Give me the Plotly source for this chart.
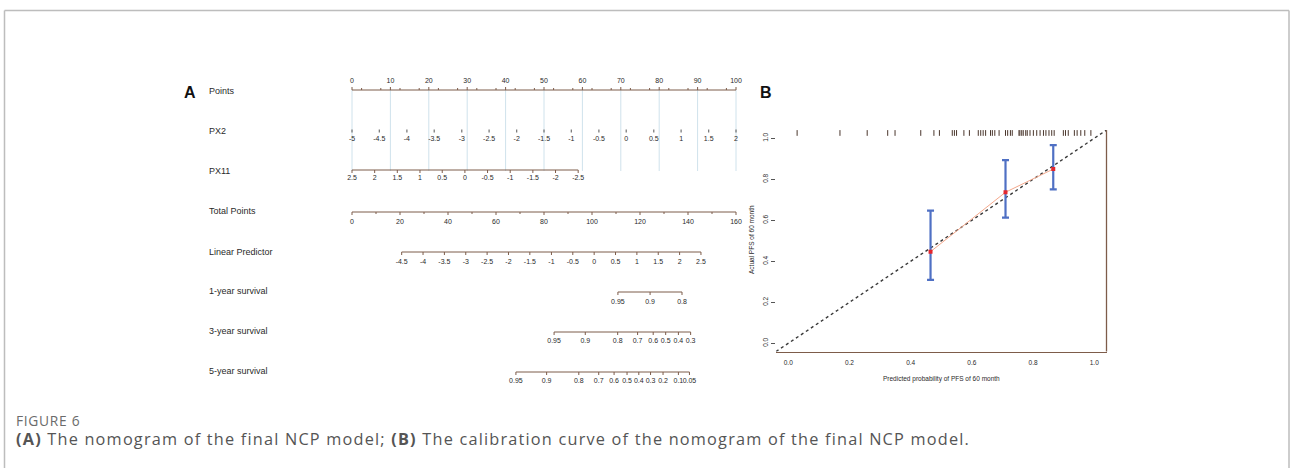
import plotly.graph_objects as go

# ------------------------------------------------------------------
# DATA
# ------------------------------------------------------------------
points_ticks = [0, 10, 20, 30, 40, 50, 60, 70, 80, 90, 100]
points_minor = [2.5, 7.5, 12.5, 17.5, 22.5, 27.5, 32.5, 37.5, 42.5, 47.5,
                52.5, 57.5, 62.5, 67.5, 72.5, 77.5, 82.5, 87.5, 92.5, 97.5]

px2_values = ["-5", "-4.5", "-4", "-3.5", "-3", "-2.5", "-2", "-1.5", "-1",
              "-0.5", "0", "0.5", "1", "1.5", "2"]
px2_points = [0, 7.1, 14.3, 21.4, 28.6, 35.7, 42.9, 50.0, 57.1, 64.3,
              71.4, 78.6, 85.7, 92.9, 100]

px11_values = ["2.5", "2", "1.5", "1", "0.5", "0", "-0.5", "-1", "-1.5",
               "-2", "-2.5"]
px11_points = [0, 5.9, 11.8, 17.7, 23.5, 29.4, 35.3, 41.2, 47.1, 53.0, 58.9]

total_ticks = [0, 20, 40, 60, 80, 100, 120, 140, 160]
total_minor = [10, 30, 50, 70, 90, 110, 130, 150]
total_max = 160          # total-points value that lines up with 100 points
points_max = 100

lp_values = ["-4.5", "-4", "-3.5", "-3", "-2.5", "-2", "-1.5", "-1", "-0.5",
             "0", "0.5", "1", "1.5", "2", "2.5"]
lp_total = [20.7, 29.6, 38.5, 47.4, 56.3, 65.2, 74.1, 83.1, 92.0, 100.9,
            109.8, 118.7, 127.6, 136.5, 145.4]

surv1_labels = ["0.95", "0.9", "0.8"]
surv1_total = [110.8, 124.2, 137.5]

surv3_labels = ["0.95", "0.9", "0.8", "0.7", "0.6", "0.5", "0.4", "0.3"]
surv3_total = [84.2, 97.2, 110.7, 119.0, 125.5, 130.7, 136.0, 141.1]

surv5_labels = ["0.95", "0.9", "0.8", "0.7", "0.6", "0.5", "0.4", "0.3",
                "0.2", "0.1", "0.05"]
surv5_total = [68.3, 81.1, 94.5, 102.8, 109.2, 114.6, 119.5, 124.4, 129.6,
               136.0, 140.6]

row_names = ["Points", "PX2", "PX11", "Total Points", "Linear Predictor",
             "1-year survival", "3-year survival", "5-year survival"]

# calibration curve
cal_pred = [0.465, 0.710, 0.866]
cal_obs = [0.447, 0.737, 0.850]
cal_upper = [0.647, 0.894, 0.967]
cal_lower = [0.309, 0.613, 0.751]
cal_ticks = [0.0, 0.2, 0.4, 0.6, 0.8, 1.0]
cal_ticktext = ["0.0", "0.2", "0.4", "0.6", "0.8", "1.0"]

rug_pred = [0.029, 0.169, 0.258, 0.325, 0.349, 0.433, 0.476, 0.494, 0.536,
            0.543, 0.550, 0.574, 0.592, 0.621, 0.629, 0.637, 0.645, 0.661,
            0.667, 0.675, 0.689, 0.710, 0.717, 0.726, 0.732, 0.754, 0.757,
            0.763, 0.768, 0.776, 0.781, 0.790, 0.801, 0.812, 0.823, 0.834,
            0.842, 0.852, 0.861, 0.869, 0.899, 0.906, 0.915, 0.935, 0.944,
            0.956, 0.969, 0.989]

# ------------------------------------------------------------------
# LAYOUT / STYLE
# ------------------------------------------------------------------
W, H = 1290, 468
AXC = "#7d5c4a"        # brown axis colour
TXT = "#2a2a2a"
GRID = "#cfe2ec"
FONT = "Liberation Sans, Arial, sans-serif"
CAPFONT = "Open Sans, sans-serif"

# nomogram: x axis in "points" units, y axis in pixels from the top
P0_PX, PX_PER_PT = 352.0, 3.84


def px(x):
    return x / W


def py(y):
    return 1 - y / H


def tp2pts(v):
    return [t * points_max / total_max for t in v]


row_y = [90, 131, 170, 212, 252, 292, 332, 372]   # axis line positions
label_y = [91, 131, 171, 211, 252, 291, 331, 371]

fig = go.Figure()


def add_line(xs, ys, color, width, xaxis="x", yaxis="y", dash=None):
    fig.add_trace(go.Scatter(x=xs, y=ys, mode="lines", xaxis=xaxis,
                             yaxis=yaxis, hoverinfo="skip", showlegend=False,
                             line=dict(color=color, width=width, dash=dash)))


def add_scale(pos, labels, y0, up=False, line=True, ticklen=3, lab_dy=9,
              minor=None, fsize=7):
    if line:
        add_line([min(pos), max(pos)], [y0, y0], AXC, 1)
    sgn = -1 if up else 1
    tx, ty = [], []
    for p in pos:
        tx += [p, p, None]
        ty += [y0, y0 + sgn * ticklen, None]
    if minor:
        for p in minor:
            tx += [p, p, None]
            ty += [y0, y0 + sgn * 2, None]
    add_line(tx, ty, AXC, 1)
    fig.add_trace(go.Scatter(
        x=pos, y=[y0 + sgn * lab_dy] * len(pos), mode="text",
        text=labels, textposition="middle center", cliponaxis=False,
        textfont=dict(family=FONT, size=fsize, color=TXT),
        hoverinfo="skip", showlegend=False))


# light-blue vertical guide lines
gx, gy = [], []
for p in points_ticks:
    gx += [p, p, None]
    gy += [row_y[0], row_y[2] + 1, None]
add_line(gx, gy, GRID, 1)

# Points
add_scale(points_ticks, [str(v) for v in points_ticks], row_y[0], up=True,
          ticklen=3, lab_dy=8.5, minor=points_minor)
# PX2 (ticks only, no line)
fx, fy = [], []
for p in px2_points:
    fx += [p, p, None]
    fy += [row_y[1] - 1.5, row_y[1] + 1.5, None]
add_line(fx, fy, "#555555", 1)
fig.add_trace(go.Scatter(
    x=px2_points, y=[row_y[1] + 8.5] * len(px2_points), mode="text",
    text=px2_values, textposition="middle center", cliponaxis=False,
    textfont=dict(family=FONT, size=7, color=TXT), hoverinfo="skip",
    showlegend=False))
# PX11
add_scale(px11_points, px11_values, row_y[2], lab_dy=8.5)
# Total points
add_scale(tp2pts(total_ticks), [str(v) for v in total_ticks], row_y[3],
          lab_dy=10, minor=tp2pts(total_minor))
# Linear predictor
add_scale(tp2pts(lp_total), lp_values, row_y[4], lab_dy=10)
# survival rows
add_scale(tp2pts(surv1_total), surv1_labels, row_y[5], lab_dy=10)
add_scale(tp2pts(surv3_total), surv3_labels, row_y[6], lab_dy=9.5)
add_scale(tp2pts(surv5_total), surv5_labels, row_y[7], lab_dy=9.5)

# ---------------- calibration panel ----------------
add_line([-0.04, 1.04], [-0.04, 1.04], "#3a3a3a", 1.4, "x2", "y2", "dot")
rx, ry = [], []
for r in rug_pred:
    rx += [r, r, None]
    ry += [1.012, 1.04, None]
add_line(rx, ry, "#4a362c", 1, "x2", "y2")
add_line(cal_pred, cal_obs, "#f4a88c", 1, "x2", "y2")
fig.add_trace(go.Scatter(
    x=cal_pred, y=cal_obs, mode="markers", xaxis="x2", yaxis="y2",
    marker=dict(color="#e3262e", size=4, symbol="square"),
    error_y=dict(type="data", symmetric=False,
                 array=[u - o for u, o in zip(cal_upper, cal_obs)],
                 arrayminus=[o - l for o, l in zip(cal_obs, cal_lower)],
                 color="#4f70c4", thickness=2.2, width=3.5),
    hoverinfo="skip", showlegend=False))

# ---------------- annotations ----------------
ann = []


def note(x, y, text, size, color, family=FONT, xanchor="center", **kw):
    ann.append(dict(x=px(x), y=py(y), xref="paper", yref="paper", text=text,
                    showarrow=False, xanchor=xanchor, yanchor="middle",
                    font=dict(family=family, size=size, color=color), **kw))


for name, yy in zip(row_names, label_y):
    note(207, yy, name, 9, TXT, xanchor="left")
note(189.5, 93, "<b>A</b>", 16, "#111")
note(766, 93, "<b>B</b>", 16, "#111")
note(941, 379, "Predicted probability of PFS of 60 month", 6.5, TXT)
note(752, 240, "Actual PFS of 60 month", 6.5, TXT, textangle=-90)
note(14, 420, '<span style="letter-spacing:0.7px">FIGURE 6</span>', 13.8,
     "#6b6b6b", family=CAPFONT, xanchor="left")
note(14, 439, '<span style="letter-spacing:1.2px">'
              "<b>(A)</b> The nomogram of the final NCP model; "
              "<b>(B)</b> The calibration curve of the nomogram of "
              "the final NCP model.</span>",
     16.3, "#555555", family=CAPFONT, xanchor="left")

shapes = [
    # page frame
    dict(type="line", xref="paper", yref="paper", x0=px(4.5), x1=px(4.5),
         y0=py(10.5), y1=py(470), line=dict(color="#bdbdbd", width=1.5)),
    dict(type="line", xref="paper", yref="paper", x0=px(4.5), x1=px(1289),
         y0=py(10.5), y1=py(10.5), line=dict(color="#bdbdbd", width=1.5)),
    dict(type="line", xref="paper", yref="paper", x0=px(1289), x1=px(1289),
         y0=py(10.5), y1=py(470), line=dict(color="#bdbdbd", width=1.5)),
    # right border of the calibration plot
    dict(type="line", xref="x2 domain", yref="y2 domain", x0=1, x1=1,
         y0=0, y1=1, line=dict(color=AXC, width=1.3)),
]

fig.update_layout(
    width=W, height=H, margin=dict(l=0, r=0, t=0, b=0),
    paper_bgcolor="white", plot_bgcolor="rgba(0,0,0,0)",
    showlegend=False, annotations=ann, shapes=shapes,
    xaxis=dict(domain=[0, 1], range=[-P0_PX / PX_PER_PT,
                                     (W - P0_PX) / PX_PER_PT],
               visible=False, fixedrange=True),
    yaxis=dict(domain=[0, 1], range=[H, 0], visible=False, fixedrange=True),
    xaxis2=dict(domain=[px(776), px(1106.5)], range=[-0.04, 1.04],
                anchor="y2", showgrid=False, zeroline=False,
                showline=True, linecolor=AXC, linewidth=1.3,
                tickvals=cal_ticks, ticktext=cal_ticktext, ticks="outside",
                ticklen=5, tickcolor="rgba(0,0,0,0)",
                tickfont=dict(family=FONT, size=6.5, color=TXT)),
    yaxis2=dict(domain=[py(351.5), py(130.1)], range=[-0.04, 1.04],
                anchor="x2", showgrid=False, zeroline=False, showline=False,
                tickvals=cal_ticks, ticktext=cal_ticktext, ticks="outside",
                ticklen=4, tickcolor="#555555", tickangle=-90,
                tickfont=dict(family=FONT, size=6.5, color=TXT)),
)

fig.write_html("out.html")
